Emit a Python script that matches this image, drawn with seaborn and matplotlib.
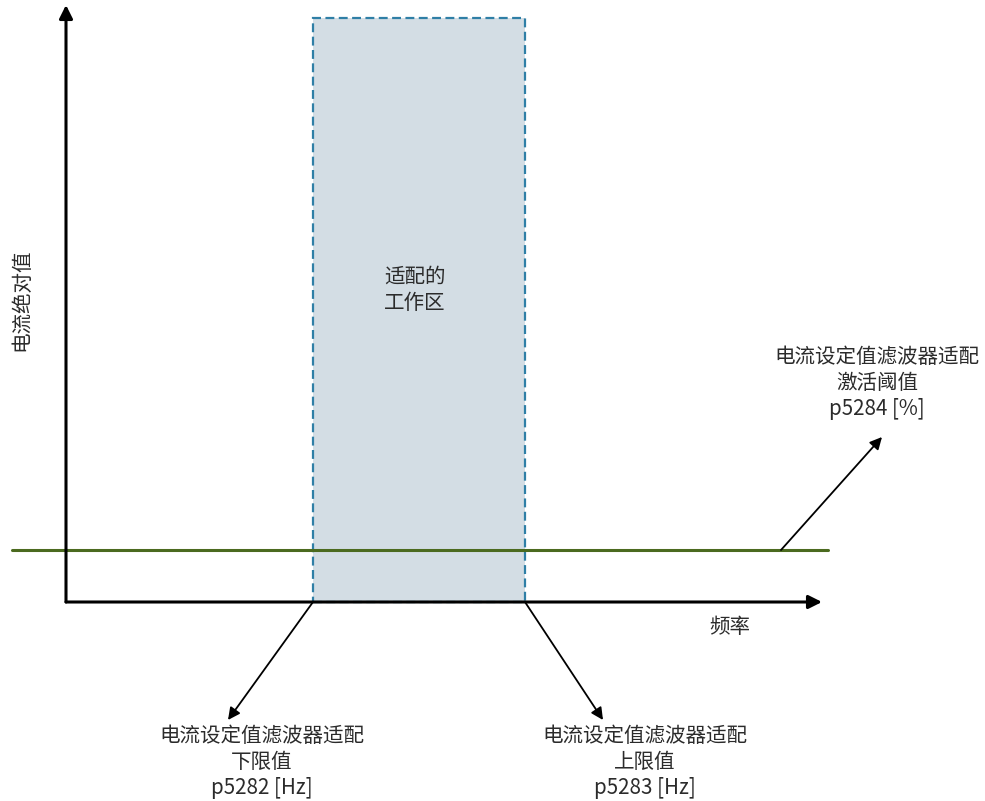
import matplotlib
matplotlib.use('Agg')
import matplotlib.pyplot as plt
import seaborn as sns
import pandas as pd
from matplotlib.patches import Rectangle

sns.set_theme(style='white')
plt.rcParams['font.family'] = ['Noto Sans CJK SC', 'DejaVu Sans']

# diagram values (origin = corner of the two axes, units ~ pixels)
x_range = [-66, 919]
y_range = [-199, 602]
axis_x_end = 756          # tip of frequency arrow
axis_y_end = 597          # tip of current arrow
band_f = [247, 459]       # lower / upper frequency limit
band_top = 584
threshold = 52            # activation threshold level
threshold_span = [-54, 762]

labels = {
    'y': '电流绝对值',
    'x': '频率',
    'band': '适配的\n工作区',
    'thr': '电流设定值滤波器适配\n激活阈值\np5284 [%]',
    'low': '电流设定值滤波器适配\n下限值\np5282 [Hz]',
    'high': '电流设定值滤波器适配\n上限值\np5283 [Hz]',
}

fig = plt.figure(figsize=(9.85, 8.01), dpi=100)
ax = fig.add_axes([0, 0, 1, 1])
ax.set_xlim(*x_range)
ax.set_ylim(*y_range)
ax.axis('off')

txt_color = '#2b2b2b'

# working band
ax.add_patch(Rectangle((band_f[0], 0), band_f[1] - band_f[0], band_top,
                       facecolor='#d3dde4', edgecolor='#2f7fa6', linewidth=1.6,
                       linestyle=(0, (4, 2)), zorder=1))

# threshold line
thr_df = pd.DataFrame({'f': threshold_span, 'i': [threshold, threshold]})
sns.lineplot(data=thr_df, x='f', y='i', color='#4b6a1f', linewidth=2.2, ax=ax, zorder=3)

# axes arrows
axis_kw = dict(arrowstyle='-|>', color='black', lw=2.2, mutation_scale=20, shrinkA=0, shrinkB=0)
ax.annotate('', xy=(axis_x_end, 0), xytext=(0, 0), arrowprops=axis_kw, zorder=4)
ax.annotate('', xy=(0, axis_y_end), xytext=(0, 0), arrowprops=axis_kw, zorder=4)

# callout arrows
call_kw = dict(arrowstyle='-|>', color='black', lw=1.3, mutation_scale=18, shrinkA=0, shrinkB=0)
ax.annotate('', xy=(816, 165), xytext=(715, threshold), arrowprops=call_kw)
ax.annotate('', xy=(162, -118), xytext=(band_f[0], 0), arrowprops=call_kw)
ax.annotate('', xy=(537, -118), xytext=(band_f[1], 0), arrowprops=call_kw)

# texts
fs = 14.8
ax.text(-45, 302, labels['y'], rotation=90, ha='center', va='center', fontsize=fs, color=txt_color)
ax.text(664, -25, labels['x'], ha='center', va='center', fontsize=fs, color=txt_color)
ax.text(349, 312, labels['band'], ha='center', va='center', fontsize=fs, color=txt_color,
        linespacing=1.25)
ax.text(811, 219, labels['thr'], ha='center', va='center', fontsize=fs, color=txt_color,
        linespacing=1.25)
ax.text(196, -160, labels['low'], ha='center', va='center', fontsize=fs, color=txt_color,
        linespacing=1.25)
ax.text(579, -160, labels['high'], ha='center', va='center', fontsize=fs, color=txt_color,
        linespacing=1.25)

fig.savefig('out.png', dpi=100, facecolor='white')
